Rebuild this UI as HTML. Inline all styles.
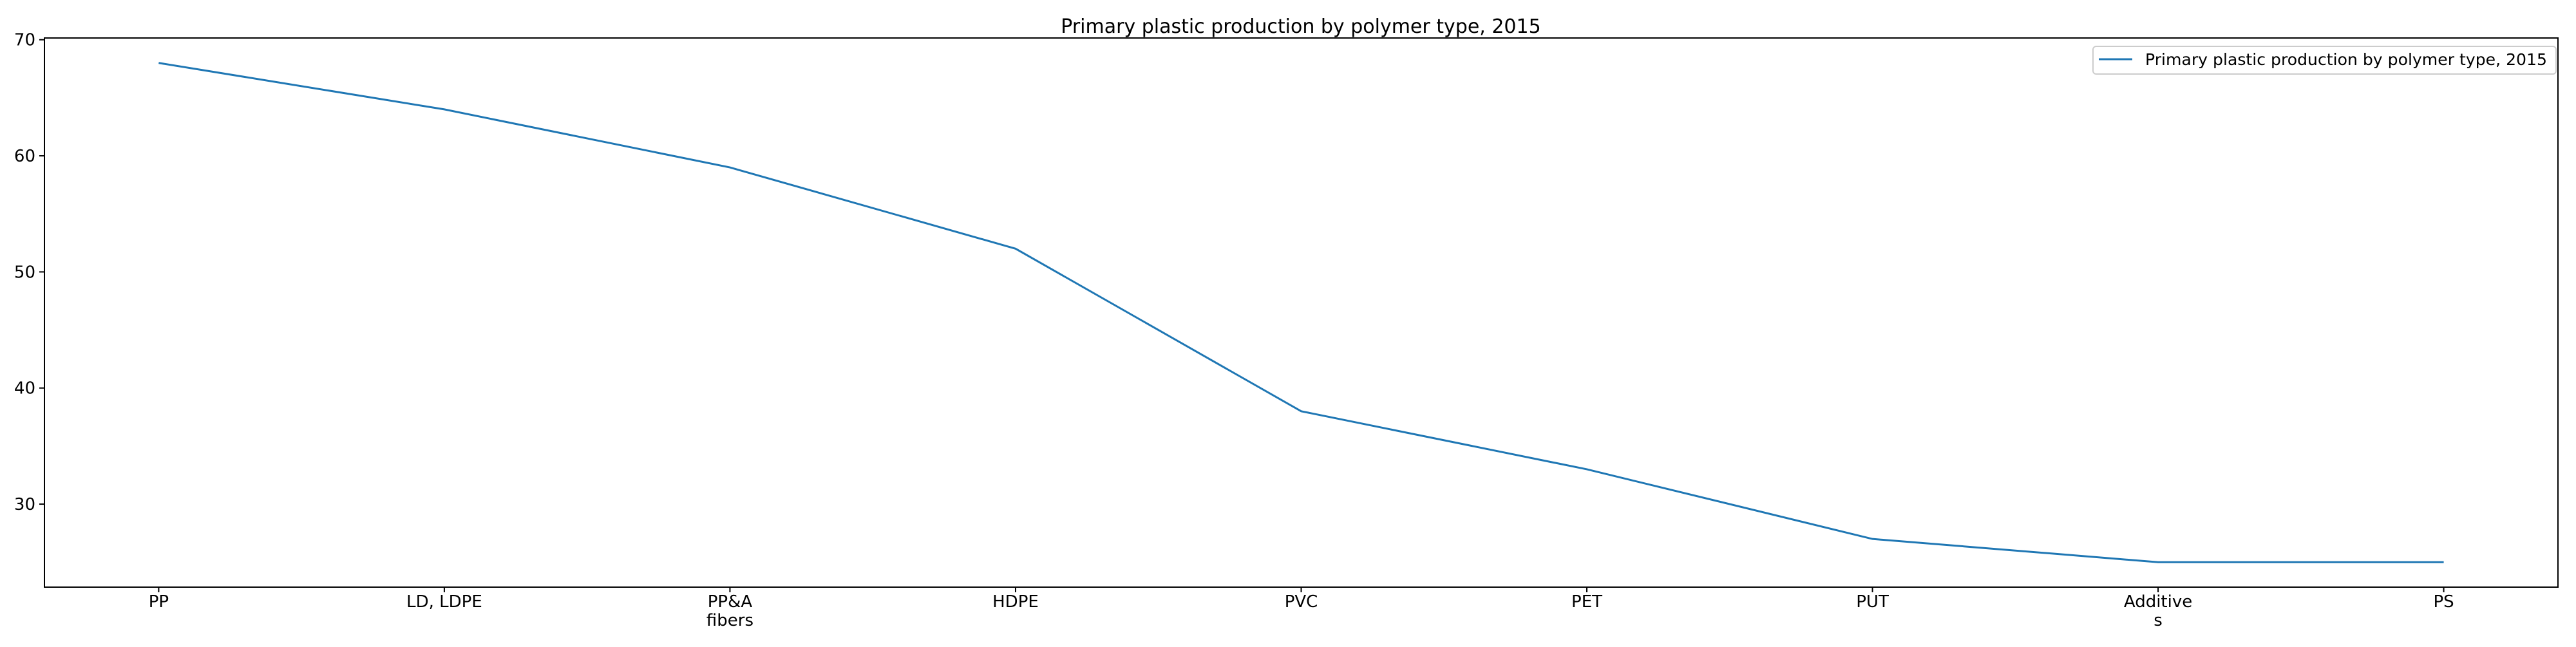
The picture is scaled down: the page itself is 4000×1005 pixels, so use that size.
<!DOCTYPE html>
<html><head><meta charset="utf-8"><style>
html,body{margin:0;padding:0;background:#fff}
svg text{font-family:"DejaVu Sans","Liberation Sans",sans-serif;fill:#000}
</style></head><body>
<svg id="chart" width="4000" height="1000" viewBox="0 0 4000 1000" xmlns="http://www.w3.org/2000/svg">
<text x="2020" y="51" font-size="30" text-anchor="middle">Primary plastic production by polymer type, 2015</text>
<g id="ticks"></g>
<path id="series" fill="none" stroke="#1f77b4" stroke-width="3"/>
<rect x="69" y="59" width="3903" height="853" fill="none" stroke="#000" stroke-width="2"/>
<g>
<rect x="3250" y="72" width="719" height="43" rx="5" fill="#fff" fill-opacity="0.8" stroke="#ccc" stroke-width="2"/>
<line x1="3259" y1="92" x2="3311" y2="92" stroke="#1f77b4" stroke-width="3"/>
<text x="3331" y="101" font-size="24.5" textLength="624" lengthAdjust="spacingAndGlyphs">Primary plastic production by polymer type, 2015</text>
</g>
</svg>
<script>
const categories = [["PP"],["LD, LDPE"],["PP&A","fibers"],["HDPE"],["PVC"],["PET"],["PUT"],["Additive","s"],["PS"]];
const values = [68, 64, 59, 52, 38, 33, 27, 25, 25];
const yTicks = [30, 40, 50, 60, 70];
const L=69,R=3972,T=59,B=912;
const yMin=22.85,yMax=70.15;
const xs=i=>L+(i+0.4)/(categories.length-1+0.8)*(R-L);
const ys=v=>B-(v-yMin)/(yMax-yMin)*(B-T);
const NS="http://www.w3.org/2000/svg";
const g=document.getElementById('ticks');
function mk(tag,attrs){const e=document.createElementNS(NS,tag);for(const k in attrs)e.setAttribute(k,attrs[k]);return e;}
yTicks.forEach(t=>{
  const y=ys(t);
  const ln=mk('line',{x1:L-8,x2:L,y1:y,y2:y,stroke:'#000','stroke-width':2});
  
  
  g.appendChild(ln);
  const tx=mk('text',{x:L-14,y:y+9,'font-size':26,'text-anchor':'end'});
  
  
  tx.textContent=t;g.appendChild(tx);
});
categories.forEach((c,i)=>{
  const x=xs(i);
  const ln=mk('line',{x1:x,x2:x,y1:B,y2:B+8,stroke:'#000','stroke-width':2});
  
  
  g.appendChild(ln);
  c.forEach((s,j)=>{
    const tx=mk('text',{x:x,y:943+j*29,'font-size':26,'text-anchor':'middle'});
    
    
    tx.textContent=s;g.appendChild(tx);
  });
});
document.getElementById('series').setAttribute('d',values.map((v,i)=>(i?'L':'M')+xs(i)+' '+ys(v)).join(' '));
</script>
</body></html>
